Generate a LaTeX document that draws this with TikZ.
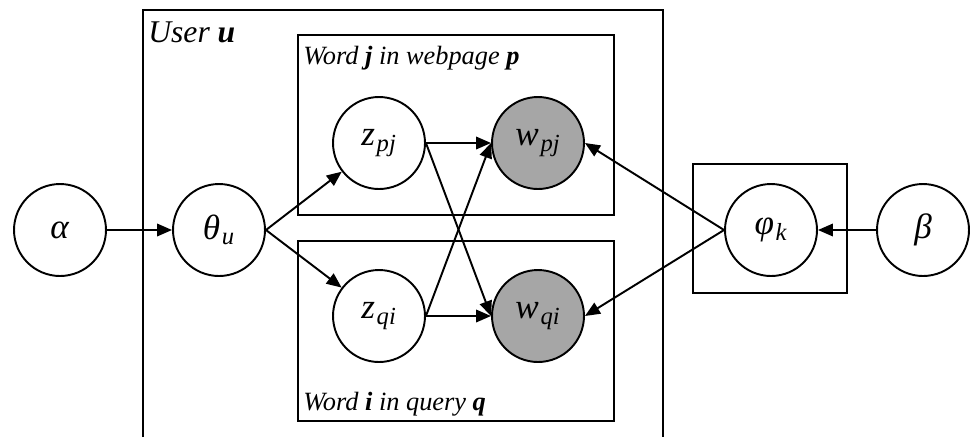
\documentclass[tikz,border=0pt]{standalone}
\usepackage{fontspec}
\setmainfont{Liberation Serif}
\usetikzlibrary{arrows.meta}
\definecolor{obsgray}{RGB}{166,166,166}
\newcommand{\vname}[2]{\textit{#1\kern1pt\textsubscript{#2}}}
\tikzset{
  var/.style={circle,draw,line width=1.1pt,minimum size=1.84cm,inner sep=0pt,font=\fontsize{20}{24}\selectfont},
  obs/.style={var,fill=obsgray},
  plate/.style={draw,line width=1.1pt},
  edge/.style={line width=1.1pt,-{Triangle[length=0.3cm,width=0.25cm]}},
  platelab/.style={anchor=base west,inner sep=0pt,font=\fontsize{15}{18}\selectfont\itshape}
}
\begin{document}
\begin{tikzpicture}[x=0.02cm,y=-0.02cm]
        \useasboundingbox (0,0) rectangle (971,437);

        % plates
        \draw[plate] (143,437) -- (143,10) -- (663,10) -- (663,437);
        \draw[plate] (298,35) rectangle (614,215);
        \draw[plate] (298,241) rectangle (614,421);
        \draw[plate] (693,164) rectangle (847,293);

        \node[platelab,font=\fontsize{18}{21}\selectfont\itshape] (userlab) at (148,42) {User \textbf{u}};
        \node[platelab] (webpagelab) at (303,64) {Word \textbf{j} in webpage \textbf{p}};
        \node[platelab] (querylab) at (303,410) {Word \textbf{i} in query \textbf{q}};

        % variables
        \node[var] (alpha) at (60,230) {\textit{α}};
        \node[var] (theta) at (219,230) {\vname{θ}{u}};
        \node[var] (zpj) at (379,143) {\vname{z}{pj}};
        \node[obs] (wpj) at (538,143) {\vname{w}{pj}};
        \node[var] (zqi) at (379,316) {\vname{z}{qi}};
        \node[obs] (wqi) at (538,316) {\vname{w}{qi}};
        \node[var] (phi) at (771,230) {\vname{φ}{k}};
        \node[var] (beta) at (923,230) {\textit{β}};

        % edges
        \draw[edge] (alpha) -- (theta);
        \draw[edge] (theta.east) -- (zpj);
        \draw[edge] (theta.east) -- (zqi);
        \draw[edge] (zpj) -- (wpj);
        \draw[edge] (zqi) -- (wqi);
        \draw[edge] (zpj.east) -- (wqi.west);
        \draw[edge] (zqi.east) -- (wpj.west);
        \draw[edge] (phi.west) -- (wpj.east);
        \draw[edge] (phi.west) -- (wqi.east);
        \draw[edge] (beta) -- (phi);
      \end{tikzpicture}
\end{document}
